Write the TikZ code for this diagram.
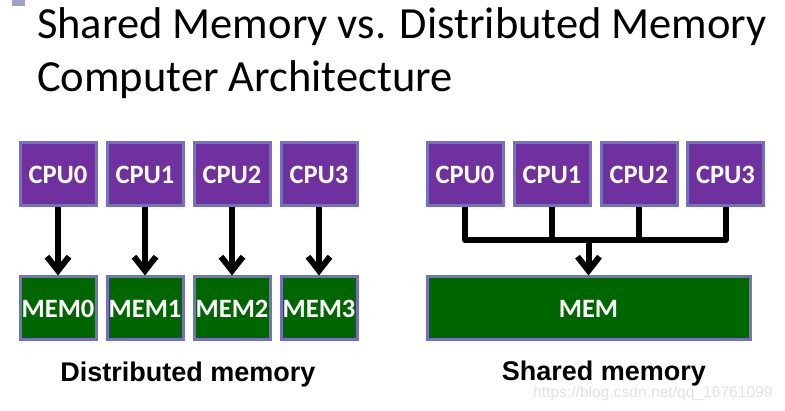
\documentclass[tikz,border=0pt]{standalone}
\usepackage{fontspec}
\setmainfont{Carlito}
\newfontfamily\arialfont{Liberation Sans}
\usetikzlibrary{arrows.meta}
\definecolor{boxborder}{RGB}{118,112,192}
\definecolor{cpufill}{RGB}{112,48,160}
\definecolor{memfill}{RGB}{0,102,0}
\definecolor{marker}{RGB}{160,160,210}
\definecolor{wmark}{RGB}{225,225,225}
\tikzset{
  unitbox/.style={draw=boxborder, line width=3pt, text=white, inner sep=0pt,
    font=\fontsize{26.5}{26.5}\selectfont\bfseries, minimum height=63pt},
  cpubox/.style={unitbox, fill=cpufill, minimum width=76pt},
  membox/.style={unitbox, fill=memfill},
  link/.style={line width=6pt, line join=round},
  linkarrow/.style={link, -{Straight Barb[length=14pt,width=22pt]}},
  caption/.style={font=\arialfont\fontsize{27}{27}\selectfont\bfseries, anchor=base, inner sep=0pt},
  titletext/.style={font=\fontsize{44.5}{44.5}\selectfont, anchor=base west, inner sep=0pt}
}
\begin{document}
\begin{tikzpicture}[x=1pt,y=-1pt]
\useasboundingbox (0,0) rectangle (785,411);
% corner marker
\fill[marker] (12,0) rectangle (25,6);
% title
\node[titletext] (t1) at (37,39) {Shared Memory vs. Distributed Memory};
\node[titletext] (t2) at (37,92) {Computer Architecture};
% distributed memory
\foreach \i/\x in {0/58,1/145,2/232,3/319}{
  \node[cpubox] (lc\i) at (\x,174.5) {CPU\i};
  \node[membox, minimum width=76pt] (lm\i) at (\x,308.5) {MEM\i};
  \draw[linkarrow] (lc\i.south) -- (lm\i.north);
}
\node[caption] (lcap) at (188,382) {Distributed memory};
% shared memory
\foreach \i/\x in {0/465,1/552,2/639,3/725.5}{
  \node[cpubox] (rc\i) at (\x,174.5) {CPU\i};
}
\node[membox, minimum width=323pt] (rm) at (588.5,308.5) {MEM};
\coordinate (bus) at (588.5,240);
\draw[link] (rc0.south) -- (rc0.south |- bus) -- (rc3.south |- bus) -- (rc3.south);
\draw[link] (rc1.south) -- (rc1.south |- bus);
\draw[link] (rc2.south) -- (rc2.south |- bus);
\draw[linkarrow] (bus) -- (rm.north);
\node[caption] (rcap) at (604,381) {Shared memory};
% watermark
\node[font=\arialfont\fontsize{15.6}{15.6}\selectfont, text=wmark, anchor=base west, inner sep=0pt] (wm) at (533,398) {https://blog.csdn.net/qq\_16761099};
\end{tikzpicture}
\end{document}
